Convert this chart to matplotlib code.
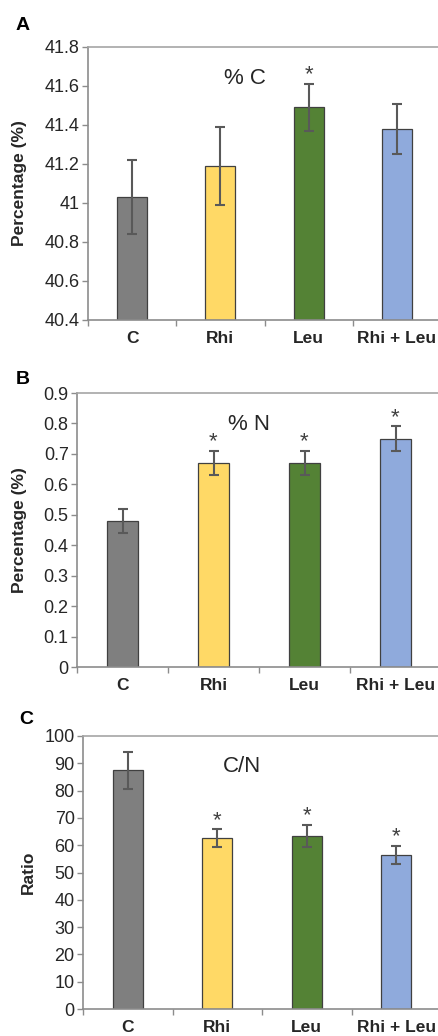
import matplotlib
matplotlib.use("Agg")
import matplotlib.pyplot as plt
import numpy as np

plt.rcParams['font.family'] = ['Liberation Sans', 'DejaVu Sans']

categories = ["C", "Rhi", "Leu", "Rhi + Leu"]
colors = ["#7F7F7F", "#FFD966", "#548235", "#8FAADC"]

pct_c = [41.03, 41.19, 41.49, 41.38]
pct_c_err = [0.19, 0.20, 0.12, 0.13]
pct_c_sig = [False, False, True, False]

pct_n = [0.48, 0.67, 0.67, 0.75]
pct_n_err = [0.04, 0.04, 0.04, 0.04]
pct_n_sig = [False, True, True, True]

ratio_cn = [87.5, 62.5, 63.5, 56.5]
ratio_cn_err = [6.8, 3.3, 4.0, 3.3]
ratio_cn_sig = [False, True, True, True]

panels = [
    dict(letter="A", vals=pct_c, err=pct_c_err, sig=pct_c_sig, ylim=(40.4, 41.8),
         yticks=[40.4, 40.6, 40.8, 41.0, 41.2, 41.4, 41.6, 41.8],
         ytl=["40.4", "40.6", "40.8", "41", "41.2", "41.4", "41.6", "41.8"],
         ylabel="Percentage (%)", title="% C",
         pos=[88/438, 1-320/1036, 353/438, 273/1036], title_xy=(245, 79),
         letter_xy=(23, 26), ylab_x=20),
    dict(letter="B", vals=pct_n, err=pct_n_err, sig=pct_n_sig, ylim=(0, 0.9),
         yticks=[0, 0.1, 0.2, 0.3, 0.4, 0.5, 0.6, 0.7, 0.8, 0.9],
         ytl=["0", "0.1", "0.2", "0.3", "0.4", "0.5", "0.6", "0.7", "0.8", "0.9"],
         ylabel="Percentage (%)", title="% N",
         pos=[77/438, 1-667/1036, 364/438, 274/1036], title_xy=(249, 425),
         letter_xy=(23, 379), ylab_x=20),
    dict(letter="C", vals=ratio_cn, err=ratio_cn_err, sig=ratio_cn_sig, ylim=(0, 100),
         yticks=list(range(0, 101, 10)),
         ytl=[str(v) for v in range(0, 101, 10)],
         ylabel="Ratio", title="C/N",
         pos=[83/438, 1-1009/1036, 358/438, 273/1036], title_xy=(242, 767),
         letter_xy=(26, 719), ylab_x=28),
]

W, H = 438, 1036
fig = plt.figure(figsize=(W/100, H/100), dpi=100)
axis_col = "#8C8C8C"
x = np.arange(len(categories))

for p in panels:
    ax = fig.add_axes(p["pos"])
    ax.set_xlim(-0.5, 3.5)
    ax.set_ylim(*p["ylim"])
    lo = p["ylim"][0]
    heights = [v - lo for v in p["vals"]]
    ax.bar(x, heights, bottom=lo, width=0.34, color=colors, edgecolor="#404040",
           linewidth=0.9, zorder=2)
    ax.errorbar(x, p["vals"], yerr=p["err"], fmt="none", ecolor="#595959",
                elinewidth=1.5, capsize=3.5, capthick=1.5, zorder=3)
    span = p["ylim"][1] - p["ylim"][0]
    for xi, v, e, s in zip(x, p["vals"], p["err"], p["sig"]):
        if s:
            ax.text(xi, v + e - span*0.005, "*", ha="center", va="bottom",
                    fontsize=16, color="#404040")
    ax.set_yticks(p["yticks"])
    ax.set_yticklabels(p["ytl"], fontsize=13, color="#262626")
    ax.set_xticks([-0.5, 0.5, 1.5, 2.5, 3.5])
    ax.set_xticklabels([])
    ax.set_xticks(x, minor=True)
    ax.set_xticklabels(categories, minor=True, fontsize=12.5, fontweight="bold",
                       color="#262626")
    ax.tick_params(axis="x", which="minor", length=0, pad=8)
    ax.tick_params(axis="x", which="major", length=4, color=axis_col, width=1)
    ax.tick_params(axis="y", length=4, color=axis_col, width=1, pad=2)
    for sp in ["left", "bottom", "top", "right"]:
        ax.spines[sp].set_color(axis_col)
        ax.spines[sp].set_linewidth(1.2)
    ax.spines["top"].set_color("#A6A6A6")
    fig.text(p["title_xy"][0]/W, 1 - p["title_xy"][1]/H, p["title"], ha="center",
             va="center", fontsize=16, color="#262626")
    fig.text(p["letter_xy"][0]/W, 1 - p["letter_xy"][1]/H, p["letter"], ha="center",
             va="center", fontsize=14, fontweight="bold", color="black")
    cy = p["pos"][1] + p["pos"][3]/2
    fig.text(p["ylab_x"]/W, cy, p["ylabel"], rotation=90, ha="center", va="center",
             fontsize=12.5, fontweight="bold", color="#262626")

fig.savefig("out.png", dpi=100)
